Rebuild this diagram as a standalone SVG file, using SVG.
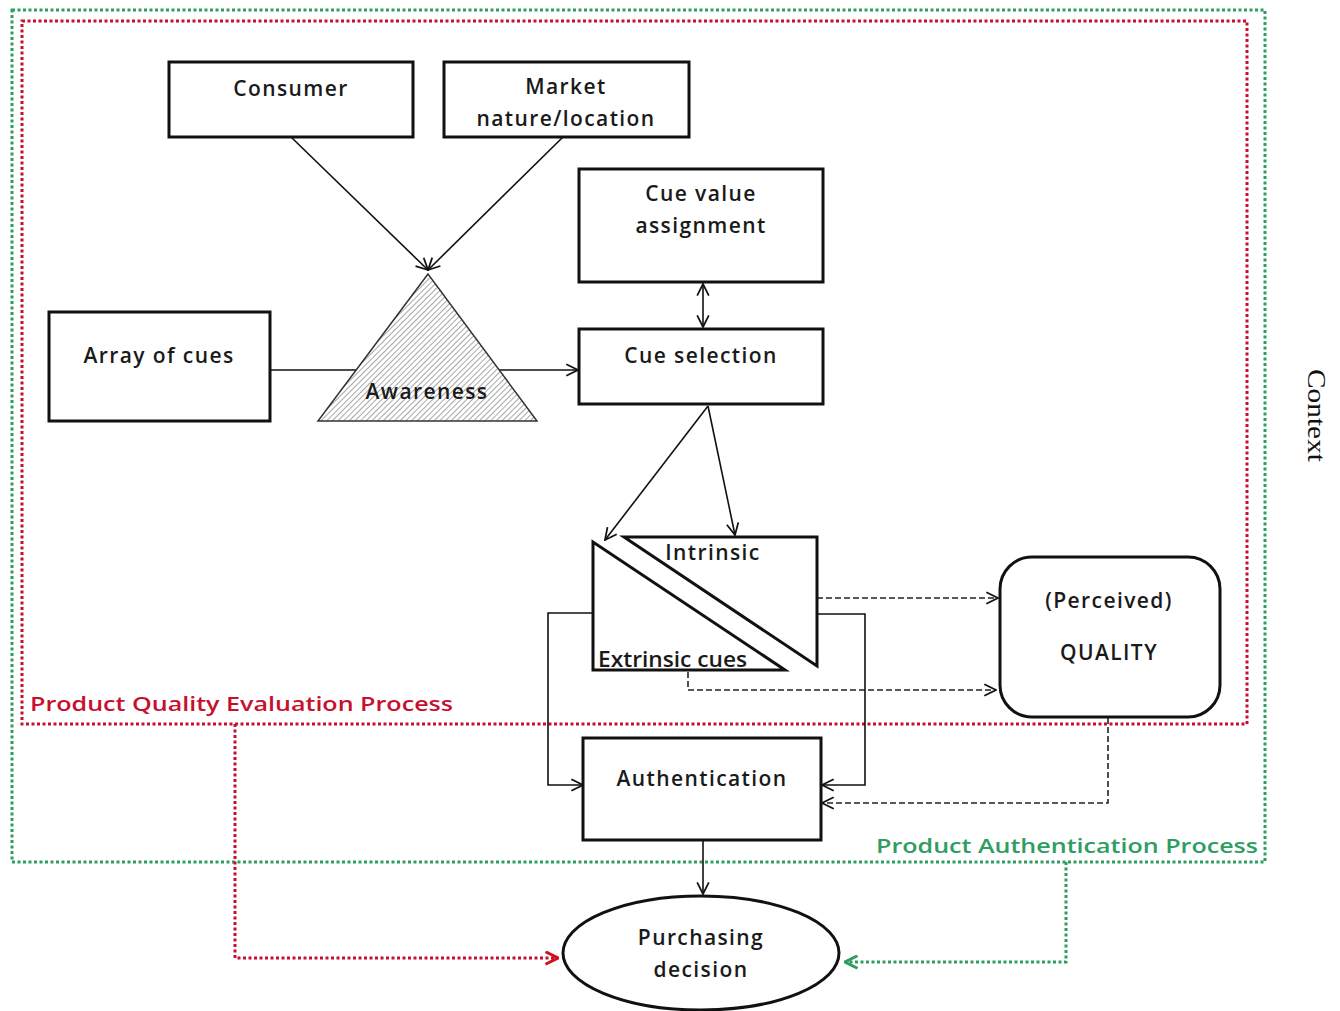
<svg xmlns="http://www.w3.org/2000/svg" width="1340" height="1011" viewBox="0 0 1340 1011">
<style>
.box{fill:#fff;stroke:#111;stroke-width:3}
.t{font-family:"Open Sans","Noto Sans",sans-serif;font-size:21px;font-weight:600;fill:#1a1a1a;text-anchor:middle;letter-spacing:1.4px}
.c{fill:none;stroke:#111;stroke-width:1.6}
.d{fill:none;stroke:#222;stroke-width:1.6;stroke-dasharray:6 3}
.red{fill:none;stroke:#c8102e;stroke-width:3;stroke-dasharray:3 2.5}
.green{fill:none;stroke:#2f9d62;stroke-width:3;stroke-dasharray:3 2.5}
</style>
<defs>
<marker id="a" viewBox="0 0 12 12" refX="11" refY="6" markerWidth="14" markerHeight="14" markerUnits="userSpaceOnUse" orient="auto-start-reverse"><path d="M1,1 L11,6 L1,11" fill="none" stroke="#111" stroke-width="1.5"/></marker>
<marker id="ar" viewBox="0 0 12 12" refX="11" refY="6" markerWidth="15" markerHeight="15" markerUnits="userSpaceOnUse" orient="auto"><path d="M1,1 L11,6 L1,11" fill="none" stroke="#d01020" stroke-width="2.4"/></marker>
<marker id="ag" viewBox="0 0 12 12" refX="11" refY="6" markerWidth="15" markerHeight="15" markerUnits="userSpaceOnUse" orient="auto"><path d="M1,1 L11,6 L1,11" fill="none" stroke="#2f9d62" stroke-width="2.4"/></marker>
<pattern id="hatch" width="4" height="4" patternUnits="userSpaceOnUse" patternTransform="rotate(45)"><rect width="4" height="4" fill="#fff"/><line x1="0" y1="0" x2="0" y2="4" stroke="#777" stroke-width="1.3"/></pattern>
</defs>
<rect width="1340" height="1011" fill="#fff"/>

<g id="frames">
<rect class="green" x="12" y="10" width="1253" height="852"/>
<rect class="red" x="22" y="21" width="1225" height="703"/>
<text x="30" y="711" font-family="Open Sans,Noto Sans,sans-serif" font-size="20" font-weight="600" fill="#c8102e" textLength="423" lengthAdjust="spacingAndGlyphs">Product Quality Evaluation Process</text>
<text x="876" y="853" font-family="Open Sans,Noto Sans,sans-serif" font-size="20" font-weight="600" fill="#2f9d62" textLength="382" lengthAdjust="spacingAndGlyphs">Product Authentication Process</text>
<text x="0" y="0" transform="translate(1308,369) rotate(90)" font-family="Liberation Serif,serif" font-size="26" fill="#111" textLength="93" lengthAdjust="spacingAndGlyphs">Context</text>
</g>

<g id="connectors">
<line class="c" x1="291" y1="137" x2="428" y2="270" marker-end="url(#a)"/>
<line class="c" x1="563" y1="137" x2="428" y2="270" marker-end="url(#a)"/>
<line class="c" x1="270" y1="370" x2="360" y2="370"/>
<line class="c" x1="498" y1="370" x2="578" y2="370" marker-end="url(#a)"/>
<line class="c" x1="703" y1="284" x2="703" y2="327" marker-start="url(#a)" marker-end="url(#a)"/>
<line class="c" x1="708" y1="406" x2="605" y2="540" marker-end="url(#a)"/>
<line class="c" x1="708" y1="406" x2="735" y2="535" marker-end="url(#a)"/>
<polyline class="d" points="817,598 998,598" marker-end="url(#a)"/>
<polyline class="d" points="688,672 688,690 996,690" marker-end="url(#a)"/>
<polyline class="c" points="593,613 548,613 548,785 583,785" marker-end="url(#a)"/>
<polyline class="c" points="817,614 865,614 865,785 822,785" marker-end="url(#a)"/>
<polyline class="d" points="1108,718 1108,803 822,803" marker-end="url(#a)"/>
<line class="c" x1="703" y1="841" x2="703" y2="894" marker-end="url(#a)"/>
<polyline class="red" points="235,724 235,958 558,958" marker-end="url(#ar)"/>
<polyline class="green" points="1066,862 1066,962 845,962" marker-end="url(#ag)"/>
</g>

<g id="consumer"><rect class="box" x="169" y="62" width="244" height="75"/><text class="t" x="291" y="96">Consumer</text></g>
<g id="market"><rect class="box" x="444" y="62" width="245" height="75"/><text class="t" x="566" y="94">Market</text><text class="t" x="566" y="126">nature/location</text></g>
<g id="cue-value"><rect class="box" x="579" y="169" width="244" height="113"/><text class="t" x="701" y="201">Cue value</text><text class="t" x="701" y="233">assignment</text></g>
<g id="cue-selection"><rect class="box" x="579" y="329" width="244" height="75"/><text class="t" x="701" y="363">Cue selection</text></g>
<g id="array"><rect class="box" x="49" y="312" width="221" height="109"/><text class="t" x="159" y="363">Array of cues</text></g>
<g id="awareness"><polygon points="428,274 318,421 537,421" fill="url(#hatch)" stroke="#333" stroke-width="1.5"/><text class="t" x="427" y="399">Awareness</text></g>
<g id="cues">
<polygon points="624,537 817,537 817,666" fill="#fff" stroke="#111" stroke-width="3"/>
<polygon points="593,542 593,670 785,670" fill="#fff" stroke="#111" stroke-width="3"/>
<text class="t" x="713" y="560">Intrinsic</text>
<text x="598" y="667" font-family="Open Sans,Noto Sans,sans-serif" font-size="21" font-weight="600" fill="#1a1a1a" textLength="149" lengthAdjust="spacingAndGlyphs">Extrinsic cues</text>
</g>
<g id="quality"><rect class="box" x="1000" y="557" width="220" height="160" rx="32"/><text class="t" x="1109" y="608">(Perceived)</text><text class="t" x="1109" y="660">QUALITY</text></g>
<g id="authentication"><rect class="box" x="583" y="738" width="238" height="102"/><text class="t" x="702" y="786">Authentication</text></g>
<g id="purchasing"><ellipse cx="701" cy="953" rx="138" ry="57" fill="#fff" stroke="#111" stroke-width="3"/><text class="t" x="701" y="945">Purchasing</text><text class="t" x="701" y="977">decision</text></g>
</svg>
